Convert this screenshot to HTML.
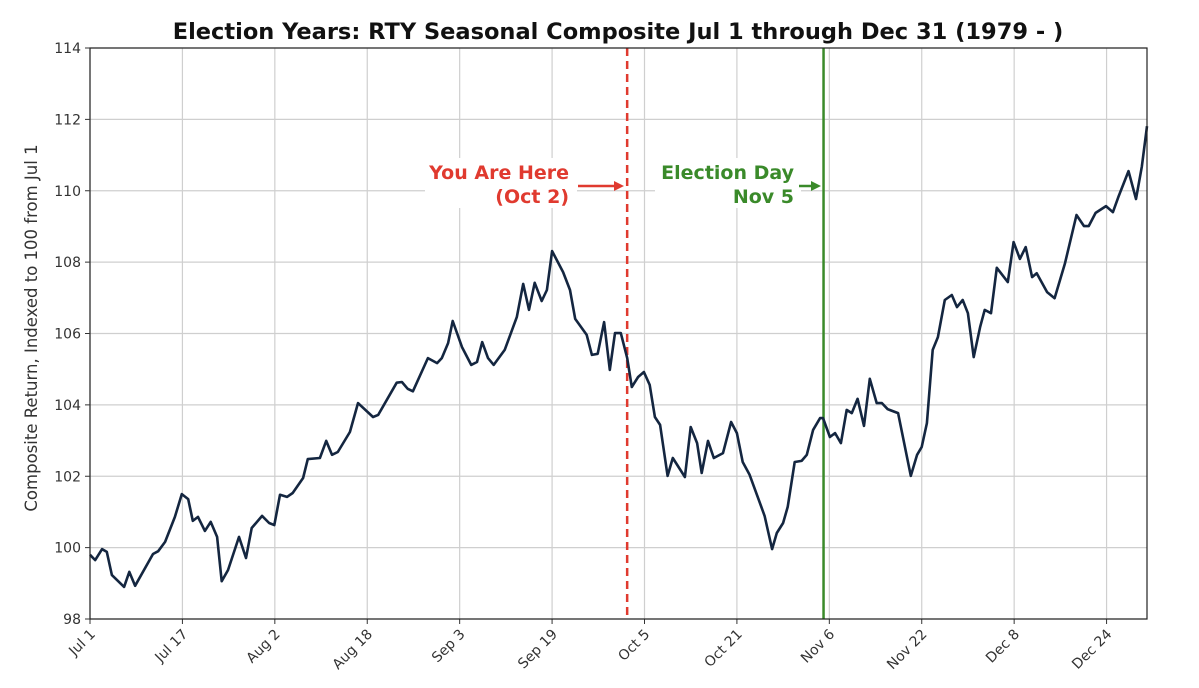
<!DOCTYPE html>
<html><head><meta charset="utf-8"><style>
body{margin:0;background:#fff;}
svg{display:block;font-family:"DejaVu Sans","Liberation Sans",sans-serif;}
</style></head><body>
<svg id="chart" width="1199" height="688"></svg>
<script>
const days=[0,0.9,2.1,2.9,3.8,5.9,6.8,7.8,10.9,11.8,13,14.7,15.9,17,17.8,18.7,19.9,20.9,22,22.8,23.9,25.8,27,28,29.8,31,31.9,32.9,34.1,35.1,36.9,37.7,39.8,40.9,41.9,42.9,45,46.4,49,49.9,53.1,54,55,55.9,58.5,60.1,60.9,62,62.8,64.4,66,67,67.9,68.9,69.9,71.8,73.9,75,76,77,78.2,79.1,80,81.9,83.1,84,86,86.9,87.9,89,90,90.9,91.9,93,93.8,94.9,95.9,96.9,97.8,98.7,100,100.9,103,104,105.1,105.9,107,108,109.6,111,112,113,114.2,115.6,116.8,118.1,118.9,120,120.8,122,123.2,124.1,125.2,126.4,126.9,128.1,129,130,131,131.9,132.9,134,135,136.2,137.1,138.1,139.9,142.1,143.2,144,144.9,145.9,146.8,148,149.2,150.1,151.1,152,153,154.1,154.9,156,157,158.9,159.9,161,162,163.1,163.9,165.7,167,168.8,170.8,172.1,172.9,174.1,175.9,177.1,178.1,179.8,181.1,182.1,183];
const values=[99.8,99.65,99.96,99.88,99.23,98.9,99.32,98.93,99.82,99.9,100.16,100.86,101.5,101.36,100.75,100.86,100.47,100.72,100.3,99.06,99.37,100.3,99.71,100.55,100.89,100.69,100.63,101.48,101.42,101.53,101.95,102.48,102.51,102.99,102.6,102.68,103.24,104.05,103.66,103.72,104.62,104.64,104.45,104.38,105.31,105.17,105.31,105.73,106.35,105.62,105.12,105.2,105.76,105.31,105.12,105.54,106.46,107.39,106.66,107.42,106.91,107.22,108.31,107.72,107.22,106.41,105.96,105.4,105.43,106.32,104.98,106.01,106.01,105.31,104.5,104.78,104.92,104.56,103.66,103.44,102.01,102.51,101.98,103.38,102.93,102.09,102.99,102.51,102.65,103.52,103.21,102.4,102.04,101.42,100.89,99.96,100.41,100.69,101.14,102.4,102.43,102.6,103.3,103.63,103.63,103.1,103.21,102.93,103.86,103.77,104.17,103.41,104.73,104.05,104.05,103.88,103.77,102.01,102.6,102.82,103.49,105.54,105.9,106.94,107.08,106.74,106.94,106.57,105.34,106.18,106.66,106.57,107.84,107.44,108.56,108.09,108.42,107.58,107.69,107.16,106.99,107.97,109.32,109.01,109.01,109.38,109.57,109.4,109.85,110.55,109.77,110.67,111.81];
const xTickLabels=["Jul 1","Jul 17","Aug 2","Aug 18","Sep 3","Sep 19","Oct 5","Oct 21","Nov 6","Nov 22","Dec 8","Dec 24"];
const xTickDays=[0,16,32,48,64,80,96,112,128,144,160,176];
const yTicks=[98,100,102,104,106,108,110,112,114];
const markerDays=[93,127];

const L=90,R=1147,T=48,B=619;
const x=d=>L+d*(R-L)/183;
const y=v=>B-(v-98)*(B-T)/16;
const svg=document.getElementById('chart');
const NS='http://www.w3.org/2000/svg';
function mk(tag,attrs,parent){const e=document.createElementNS(NS,tag);for(const k in attrs)e.setAttribute(k,attrs[k]);(parent||svg).appendChild(e);return e;}

yTicks.forEach(v=>{
  const g=mk('line',{x1:L,x2:R,y1:y(v),y2:y(v),stroke:'#cfcfcf','stroke-width':1.2});
  
  
  mk('line',{x1:L-5,x2:L,y1:y(v),y2:y(v),stroke:'#333','stroke-width':1});
  const t=mk('text',{x:L-9,y:y(v)+5,'text-anchor':'end','font-size':14,fill:'#333'});
  t.textContent=v;
  
  
});
xTickDays.forEach((d,i)=>{
  const g=mk('line',{x1:x(d),x2:x(d),y1:T,y2:B,stroke:'#cfcfcf','stroke-width':1.2});
  
  
  mk('line',{x1:x(d),x2:x(d),y1:B,y2:B+5,stroke:'#333','stroke-width':1});
  const t=mk('text',{x:x(d)+6,y:B+16,'text-anchor':'end','font-size':14,fill:'#333',transform:`rotate(-45 ${x(d)+6} ${B+16})`});
  t.textContent=xTickLabels[i];
  
  
});

const b1=mk('rect',{x:425,y:158,width:152,height:50,fill:'#fff'});


const b2=mk('rect',{x:655,y:158,width:146,height:50,fill:'#fff'});



const m1=mk('line',{x1:x(markerDays[0]),x2:x(markerDays[0]),y1:T,y2:B,stroke:'#e03a2f','stroke-width':2.5,'stroke-dasharray':'8,5'});


const m2=mk('line',{x1:x(markerDays[1]),x2:x(markerDays[1]),y1:T,y2:B,stroke:'#3a8a2a','stroke-width':2.5});



const pts=days.map((d,i)=>x(d).toFixed(1)+','+y(values[i]).toFixed(1)).join(' ');
const line=mk('polyline',{points:pts,fill:'none',stroke:'#142640','stroke-width':2.6,'stroke-linejoin':'round'});



const fr=mk('rect',{x:L,y:T,width:R-L,height:B-T,fill:'none',stroke:'#222','stroke-width':1.2});



function txt(s,xx,yy,attrs,name){const t=mk('text',Object.assign({x:xx,y:yy},attrs));t.textContent=s;return t;}
const red={'text-anchor':'end','font-size':19,'font-weight':'bold',fill:'#e03a2f'};
const green={'text-anchor':'end','font-size':19,'font-weight':'bold',fill:'#3a8a2a'};
txt('You Are Here',569,179,red,'you-are-here-label');
txt('(Oct 2)',569,203,red,'oct-2-label');
txt('Election Day',794,179,green,'election-day-label');
txt('Nov 5',794,203,green,'nov-5-label');
const a1=mk('line',{x1:578,x2:616,y1:186,y2:186,stroke:'#e03a2f','stroke-width':2.5});


mk('polygon',{points:'624,186 614,181 614,191',fill:'#e03a2f'});
const a2=mk('line',{x1:799,x2:813,y1:186,y2:186,stroke:'#3a8a2a','stroke-width':2.5});


mk('polygon',{points:'821,186 811,181 811,191',fill:'#3a8a2a'});

txt('Election Years: RTY Seasonal Composite Jul 1 through Dec 31 (1979 - )',618,39,{'text-anchor':'middle','font-size':22.5,'font-weight':'bold',fill:'#111'},'chart-title');
txt('Composite Return, Indexed to 100 from Jul 1',0,0,{'text-anchor':'middle','font-size':16.5,fill:'#333',transform:'translate(37 328) rotate(-90)'},'y-axis-title');
</script>
</body></html>
